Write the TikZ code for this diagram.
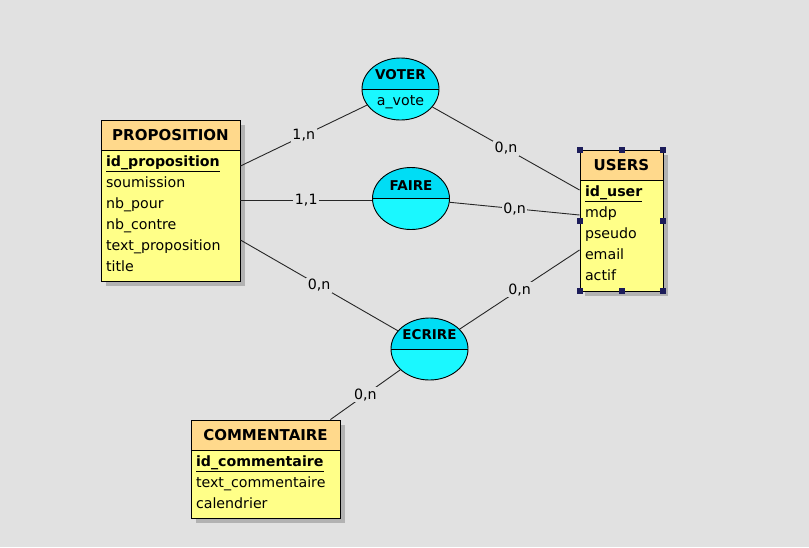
\documentclass[tikz,border=0pt]{standalone}
\usepackage{fontspec}
\setmainfont{DejaVu Sans}
\usetikzlibrary{shapes.geometric,shadows}
\definecolor{fond}{HTML}{E1E1E1}
\definecolor{ombre}{HTML}{B2B2B2}
\definecolor{entHaut}{HTML}{FFD98C}
\definecolor{entCorps}{HTML}{FFFF88}
\definecolor{assHaut}{HTML}{00DDF5}
\definecolor{assBas}{HTML}{1AF8FF}
\definecolor{poignee}{HTML}{1C1C5A}
\newcommand{\cle}[1]{\underline{\textbf{#1}}}

\begin{document}
\begin{tikzpicture}[x=1pt,y=-1pt,line width=0.9pt,
  font=\fontsize{14.2}{21}\selectfont,
  entite/.style={draw,fill=entCorps,inner sep=0pt,
    drop shadow={shadow xshift=5pt,shadow yshift=-5pt,fill=ombre,opacity=1}},
  entete/.style={draw,fill=entHaut,inner sep=0pt,minimum height=30pt,
    font=\fontsize{15}{18}\selectfont\bfseries},
  attrs/.style={anchor=north west,align=left,inner xsep=5pt,inner ysep=4.5pt},
  assoc/.style={ellipse,draw,fill=assBas,inner sep=0pt,minimum width=77pt,minimum height=62pt,
    path picture={\fill[assHaut] (path picture bounding box.north west) rectangle (path picture bounding box.east);
      \draw (path picture bounding box.west) -- (path picture bounding box.east);}},
  nomasso/.style={font=\fontsize{13.5}{16}\selectfont\bfseries},
  card/.style={fill=fond,inner sep=1.5pt},
  lien/.style={draw=black!85}]

  \fill[fond] (0,0) rectangle (809,547);
  \useasboundingbox (0,0) rectangle (809,547);

  % entites
  \node[entite,minimum width=139pt,minimum height=161pt] (prop) at (170.5,200.5) {};
  \node[entete,minimum width=139pt,anchor=north] (prop-t) at (prop.north) {PROPOSITION};
  \node[attrs] (prop-a) at (prop-t.south west)
    {\cle{id\_proposition}\\soumission\\nb\_pour\\nb\_contre\\text\_proposition\\title};

  \node[entite,minimum width=83pt,minimum height=141pt] (users) at (621.5,220.5) {};
  \node[entete,minimum width=83pt,anchor=north] (users-t) at (users.north) {USERS};
  \node[attrs] (users-a) at (users-t.south west)
    {\cle{id\_user}\\mdp\\pseudo\\email\\actif};

  \node[entite,minimum width=149pt,minimum height=98pt] (comm) at (265.5,469) {};
  \node[entete,minimum width=149pt,anchor=north] (comm-t) at (comm.north) {COMMENTAIRE};
  \node[attrs] (comm-a) at (comm-t.south west)
    {\cle{id\_commentaire}\\text\_commentaire\\calendrier};

  % associations
  \node[assoc] (voter) at (400.5,89) {};
  \node[nomasso] at ([yshift=14pt]voter.center) {VOTER};
  \node at ([yshift=-13pt]voter.center) {a\_vote};

  \node[assoc] (faire) at (411,198.5) {};
  \node[nomasso] at ([yshift=13pt]faire.center) {FAIRE};

  \node[assoc] (ecrire) at (429.5,349) {};
  \node[nomasso] at ([yshift=14pt]ecrire.center) {ECRIRE};

  % liens
  \draw[lien] ([yshift=34.5pt]prop.east) -- (voter) node[midway,card] {1,n};
  \draw[lien] (prop.east) -- (prop.east -| faire.west) node[midway,card] {1,1};
  \draw[lien] ([yshift=-39.5pt]prop.east) -- (ecrire) node[midway,card] {0,n};
  \draw[lien] (voter) -- ([yshift=30.5pt]users.west) node[midway,card] {0,n};
  \draw[lien] (faire) -- ([yshift=5.5pt]users.west) node[midway,card] {0,n};
  \draw[lien] (ecrire) -- ([yshift=-29.5pt]users.west) node[midway,card] {0,n};
  \draw[lien] (ecrire) -- ([xshift=-10pt]comm.north east) node[midway,card] {0,n};

  % poignees de selection
  \foreach \a in {north west,north,north east,west,east,south west,south,south east}
    \fill[poignee] ([shift={(-3pt,-3pt)}]users.\a) rectangle ++(6pt,6pt);
\end{tikzpicture}
\end{document}
